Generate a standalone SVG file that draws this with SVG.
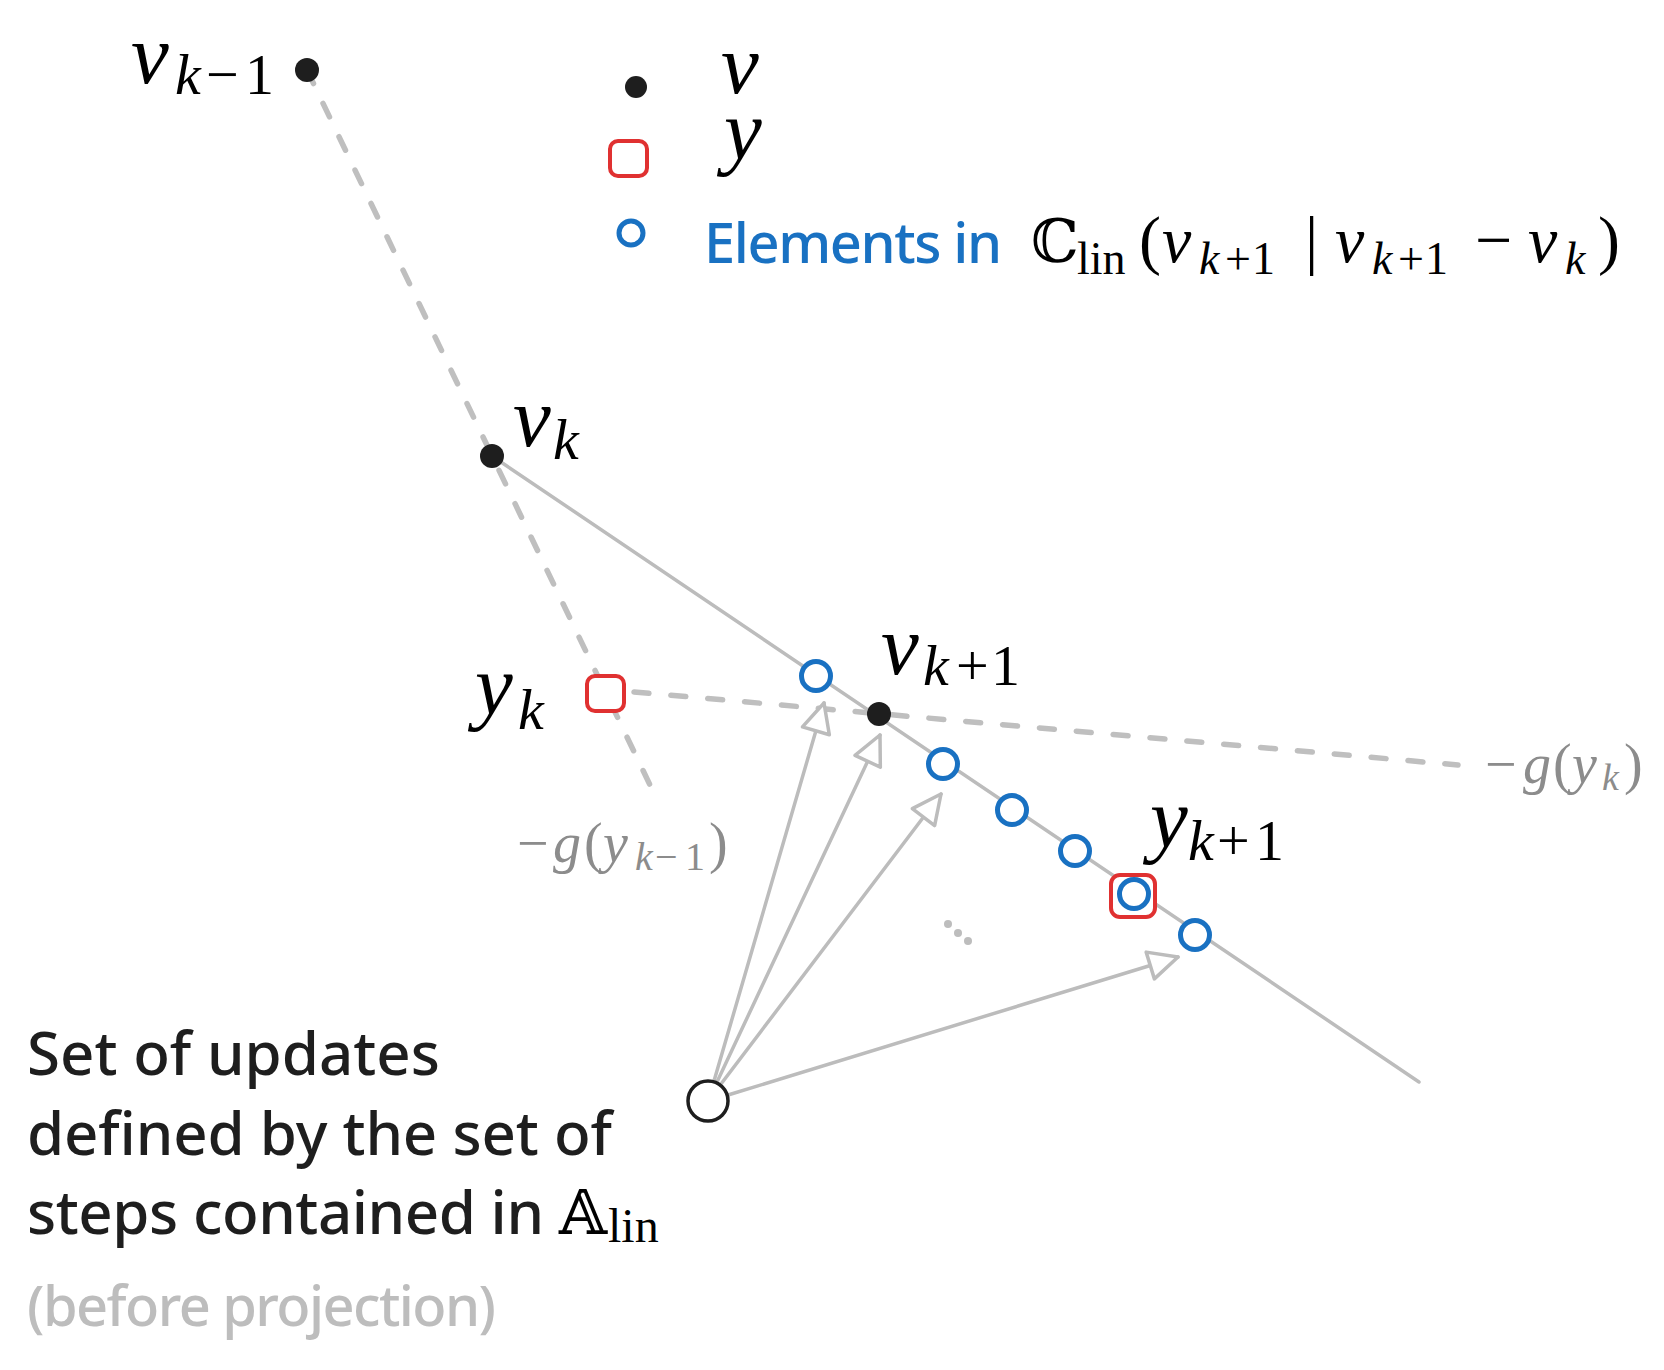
<svg xmlns="http://www.w3.org/2000/svg" width="1664" height="1370" viewBox="0 0 1664 1370">
<style>
.m{font-family:"Liberation Serif","DejaVu Serif",serif;font-style:italic;fill:#000}
.r{font-style:normal}
.g{fill:#8c8c8c}
.ds{font-family:"DejaVu Serif","DejaVu Sans",serif;font-style:normal;fill:#000}
.sans{font-family:"Noto Sans","Open Sans",sans-serif;font-weight:500;fill:#1e1e1e}
.dash{fill:none;stroke:#bfbfbf;stroke-width:5.5;stroke-dasharray:15 22;stroke-linecap:round}
.solid{fill:none;stroke:#bcbcbc;stroke-width:3.5;stroke-linecap:round}
.arr{fill:none;stroke:#bcbcbc;stroke-width:3.5;stroke-linecap:round;marker-end:url(#tri)}
.dot{fill:#1e1e1e}
.sq{fill:#fff;stroke:#e03131;stroke-width:4}
.bc{fill:#fff;stroke:#1971c2;stroke-width:5}
.ell{fill:#bdbdbd}
</style>
<defs>
<marker id="tri" markerUnits="userSpaceOnUse" viewBox="-34 -18 38 36" refX="0" refY="0" markerWidth="38" markerHeight="36" orient="auto">
<path d="M0,0 L-29,-14 L-29,14 Z" fill="#fff" stroke="#bcbcbc" stroke-width="3.5" stroke-linejoin="round"/>
</marker>
</defs>

<g id="connectors">
<line class="dash" x1="307" y1="70" x2="650" y2="785"/>
<line class="dash" x1="634" y1="692" x2="1458" y2="765"/>
<line class="solid" x1="492" y1="456" x2="1419" y2="1082"/>
<line class="arr" x1="714" y1="1081" x2="824" y2="703"/>
<line class="arr" x1="717" y1="1082" x2="880" y2="735"/>
<line class="arr" x1="721" y1="1084" x2="941" y2="794"/>
<line class="arr" x1="728" y1="1095" x2="1178" y2="957"/>
</g>

<g id="legend">
<circle class="dot" cx="636" cy="87" r="11"/>
<text class="m" font-size="85" x="721" y="93">v</text>
<rect class="sq" x="610" y="141" width="37" height="35" rx="8"/>
<text class="m" font-size="85" x="724" y="159">y</text>
<circle class="bc" cx="631" cy="233" r="12"/>
<text class="sans" font-weight="600" font-size="56" x="704" y="263" textLength="298" style="fill:#1971c2">Elements in</text>
<text class="m" font-size="66"><tspan class="ds" x="1031" y="262" font-size="60">ℂ</tspan><tspan class="r" x="1077" y="274" font-size="46">lin</tspan><tspan class="r" x="1139" y="262">(</tspan><tspan x="1162" y="262">v</tspan><tspan x="1199" y="274" font-size="46">k</tspan><tspan class="r" x="1225" y="274" font-size="46">+</tspan><tspan class="r" x="1252" y="274" font-size="46">1</tspan><tspan class="r" x="1305" y="262">|</tspan><tspan x="1335" y="262">v</tspan><tspan x="1372" y="274" font-size="46">k</tspan><tspan class="r" x="1398" y="274" font-size="46">+</tspan><tspan class="r" x="1425" y="274" font-size="46">1</tspan><tspan class="r" x="1475" y="262">−</tspan><tspan x="1528" y="262">v</tspan><tspan x="1565" y="274" font-size="46">k</tspan><tspan class="r" x="1598" y="262">)</tspan></text>
</g>

<g id="v_km1">
<circle class="dot" cx="307" cy="70" r="12"/>
<text class="m" font-size="85"><tspan x="131" y="83">v</tspan><tspan x="175" y="94" font-size="58">k</tspan><tspan class="r" x="206" y="94" font-size="58">−</tspan><tspan class="r" x="245" y="94" font-size="58">1</tspan></text>
</g>

<g id="v_k">
<circle class="dot" cx="492" cy="456" r="12"/>
<text class="m" font-size="85"><tspan x="513" y="446">v</tspan><tspan x="553" y="459" font-size="58">k</tspan></text>
</g>

<g id="y_k">
<rect class="sq" x="587" y="676" width="37" height="35" rx="8"/>
<text class="m" font-size="85"><tspan x="475" y="714">y</tspan><tspan x="518" y="729" font-size="58">k</tspan></text>
</g>

<g id="v_kp1">
<circle class="dot" cx="879" cy="714" r="12"/>
<text class="m" font-size="85"><tspan x="881" y="674">v</tspan><tspan x="923" y="685" font-size="58">k</tspan><tspan class="r" x="956" y="685" font-size="58">+</tspan><tspan class="r" x="991" y="685" font-size="58">1</tspan></text>
</g>

<g id="elements">
<circle class="bc" cx="816" cy="676" r="14.5"/>
<circle class="bc" cx="943" cy="764" r="14.5"/>
<circle class="bc" cx="1012" cy="810" r="14.5"/>
<circle class="bc" cx="1075" cy="851" r="14.5"/>
<circle class="bc" cx="1195" cy="935" r="14.5"/>
</g>

<g id="y_kp1">
<rect class="sq" x="1111" y="875" width="44" height="42" rx="9"/>
<circle class="bc" cx="1134" cy="894" r="14.5"/>
<text class="m" font-size="85"><tspan x="1150" y="847">y</tspan><tspan x="1188" y="860" font-size="58">k</tspan><tspan class="r" x="1217" y="860" font-size="58">+</tspan><tspan class="r" x="1255" y="860" font-size="58">1</tspan></text>
</g>

<g id="grad_k">
<text class="m g" font-size="56"><tspan class="r" x="1485" y="783">−</tspan><tspan x="1523" y="783">g</tspan><tspan class="r" x="1553" y="783">(</tspan><tspan x="1572" y="783">y</tspan><tspan x="1602" y="790" font-size="38">k</tspan><tspan class="r" x="1624" y="783">)</tspan></text>
</g>

<g id="grad_km1">
<text class="m g" font-size="56"><tspan class="r" x="517" y="862">−</tspan><tspan x="553" y="862">g</tspan><tspan class="r" x="584" y="862">(</tspan><tspan x="603" y="862">y</tspan><tspan x="635" y="870" font-size="40">k</tspan><tspan class="r" x="655" y="870" font-size="40">−</tspan><tspan class="r" x="685" y="870" font-size="40">1</tspan><tspan class="r" x="709" y="862">)</tspan></text>
</g>

<g id="ellipsis">
<circle class="ell" cx="948" cy="924" r="4"/>
<circle class="ell" cx="958" cy="933" r="4"/>
<circle class="ell" cx="968" cy="941" r="4"/>
</g>

<g id="origin">
<circle cx="708" cy="1101" r="20" fill="#fff" stroke="#1e1e1e" stroke-width="3.5"/>
</g>

<g id="caption">
<text class="sans" font-size="60" x="27" y="1075" textLength="413">Set of updates</text>
<text class="sans" font-size="60" x="27" y="1155" textLength="585">defined by the set of</text>
<text class="sans" font-size="60" x="27" y="1234" textLength="517">steps contained in</text>
<text class="ds" font-size="62" x="559" y="1234">𝔸</text>
<text class="m r" font-size="48" x="608" y="1242">lin</text>
<text class="sans" font-size="56" x="27" y="1326" textLength="469" style="fill:#bdbdbd">(before projection)</text>
</g>
</svg>
